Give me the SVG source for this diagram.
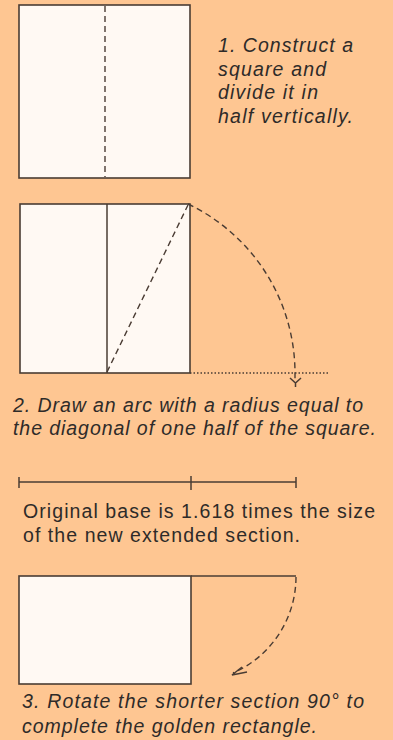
<svg xmlns="http://www.w3.org/2000/svg" width="393" height="740" viewBox="0 0 393 740">
<style>
.box{fill:#fff9f3;stroke:#4a3c33;stroke-width:1.6}
.ln{fill:none;stroke:#4a3c33;stroke-width:1.5}
.dash{fill:none;stroke:#4a3c33;stroke-width:1.4;stroke-dasharray:6 4}
.dot{fill:none;stroke:#4a3c33;stroke-width:1.3;stroke-dasharray:1.5 2}
.t{font-family:"Liberation Sans",Arial,sans-serif;font-size:19.5px;fill:#2e2b29}
.i{font-style:italic}
</style>
<rect width="393" height="740" fill="#fec692"/>
<g id="step1">
<rect class="box" x="19" y="5" width="171" height="173"/>
<line class="dash" x1="105" y1="6" x2="105" y2="177"/>
</g>
<g id="step1-text">
<text class="t i" x="218" y="52" textLength="135" lengthAdjust="spacing">1. Construct a</text>
<text class="t i" x="218" y="76" textLength="108" lengthAdjust="spacing">square and</text>
<text class="t i" x="218" y="99" textLength="100" lengthAdjust="spacing">divide it in</text>
<text class="t i" x="218" y="123" textLength="135" lengthAdjust="spacing">half vertically.</text>
</g>
<g id="step2">
<rect class="box" x="20" y="204" width="170" height="169"/>
<line class="ln" x1="107" y1="204" x2="107" y2="373"/>
</g>
<g id="connectors">
<line class="dash" x1="107" y1="372" x2="188" y2="205"/>
<path class="dash" d="M188,204 A187.4,187.4 0 0 1 295,372 L295,380"/>
<line class="dot" x1="190" y1="373" x2="328" y2="373"/>
<path class="ln" d="M290,378 L295.5,383 L301,378 M295.5,383 L295.5,387"/>
<path class="dash" d="M296,577 A105,105 0 0 1 233,673"/>
<path class="ln" d="M242,667 L232,675 L247,672"/>
</g>
<g id="step2-text">
<text class="t i" x="13" y="412" textLength="350" lengthAdjust="spacing">2. Draw an arc with a radius equal to</text>
<text class="t i" x="13" y="435" textLength="363" lengthAdjust="spacing">the diagonal of one half of the square.</text>
</g>
<g id="ratio-line">
<line class="ln" x1="19" y1="482" x2="296" y2="482"/>
<line class="ln" x1="19" y1="477" x2="19" y2="488"/>
<line class="ln" x1="191" y1="476" x2="191" y2="490"/>
<line class="ln" x1="296" y1="477" x2="296" y2="488"/>
</g>
<g id="ratio-text">
<text class="t" x="23" y="518" textLength="352" lengthAdjust="spacing">Original base is 1.618 times the size</text>
<text class="t" x="23" y="542" textLength="277" lengthAdjust="spacing">of the new extended section.</text>
</g>
<g id="step3">
<rect class="box" x="19" y="576" width="172" height="108"/>
<line class="ln" x1="191" y1="576" x2="296" y2="576"/>
</g>
<g id="step3-text">
<text class="t i" x="22" y="708" textLength="342" lengthAdjust="spacing">3. Rotate the shorter section 90° to</text>
<text class="t i" x="22" y="733" textLength="295" lengthAdjust="spacing">complete the golden rectangle.</text>
</g>
</svg>
